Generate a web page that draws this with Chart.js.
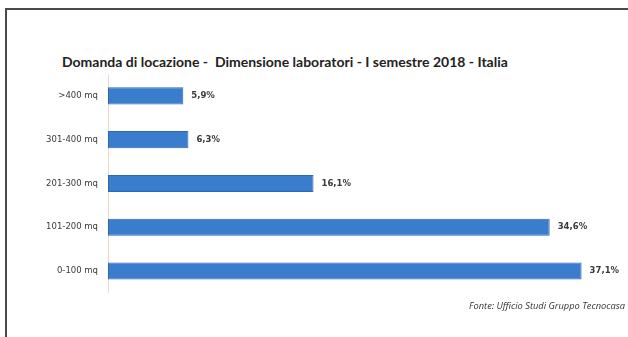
<!DOCTYPE html>
<html>
<head>
<meta charset="utf-8">
<script src="https://cdn.jsdelivr.net/npm/chart.js@4"></script>
<style>
  body { margin: 0; background: #fff; }
  #box { position: relative; width: 628px; height: 337px; }
  #frame {
    position: absolute; left: 5px; top: 8px; right: 0; bottom: 0;
    border-top: 2px solid #4a4a4a; border-left: 2px solid #4a4a4a;
  }
  #titolo {
    position: absolute; left: 62px; top: 53px; margin: 0;
    font: bold 14px Lato, sans-serif; color: #222; white-space: pre; line-height: 17px;
  }
  #myChart { position: absolute; left: 0; top: 0; }
</style>
</head>
<body>
<div id="box">
  <div id="frame"></div>
  <div id="titolo"></div>
  <canvas id="myChart" width="628" height="337"></canvas>
</div>
<script>
const ctx = document.getElementById('myChart');

const dimensioni = ['>400 mq', '301-400 mq', '201-300 mq', '101-200 mq', '0-100 mq'];
const percentuali = [5.9, 6.3, 16.1, 34.6, 37.1];

const titolo = 'Domanda di locazione -  Dimensione laboratori - I semestre 2018 - Italia';
const fonte = 'Fonte: Ufficio Studi Gruppo Tecnocasa';

document.getElementById('titolo').textContent = titolo;

// scrive la percentuale accanto a ogni barra
const etichette = {
  id: 'etichette',
  afterDatasetsDraw(chart) {
    const c = chart.ctx;
    const meta = chart.getDatasetMeta(0);
    c.save();
    c.font = 'bold 8.5px "DejaVu Sans"';
    c.fillStyle = '#3a3a3a';
    c.textAlign = 'left';
    c.textBaseline = 'middle';
    meta.data.forEach((bar, i) => {
      const testo = percentuali[i].toFixed(1).replace('.', ',') + '%';
      c.fillText(testo, bar.x + 8, bar.y);
    });
    c.restore();
  }
};

new Chart(ctx, {
  type: 'bar',
  data: {
    labels: dimensioni,
    datasets: [{
      data: percentuali,
      backgroundColor: '#3a7dcc',
      borderColor: '#2d67ae',
      borderWidth: 1,
      borderSkipped: false,
      barPercentage: 0.39,
      categoryPercentage: 1
    }]
  },
  options: {
    indexAxis: 'y',
    responsive: false,
    animation: false,
    layout: {
      padding: { left: 36, right: 3, top: 74, bottom: 25 }
    },
    scales: {
      x: {
        display: false,
        min: 0,
        max: 40.5
      },
      y: {
        afterFit(scale) { scale.width = 72; },
        grid: { display: false, drawTicks: false },
        border: { display: true, color: '#ecd9d2', width: 1 },
        ticks: {
          padding: 10,
          color: '#3a3a3a',
          font: { family: 'DejaVu Sans', size: 8.5 }
        }
      }
    },
    plugins: {
      legend: { display: false },
      tooltip: { enabled: false },
      subtitle: {
        display: true,
        text: fonte,
        position: 'bottom',
        align: 'end',
        color: '#333',
        font: { family: 'Open Sans', size: 9.3, style: 'italic' },
        padding: { top: 8, bottom: 0 }
      }
    }
  },
  plugins: [etichette]
});
</script>
</body>
</html>
